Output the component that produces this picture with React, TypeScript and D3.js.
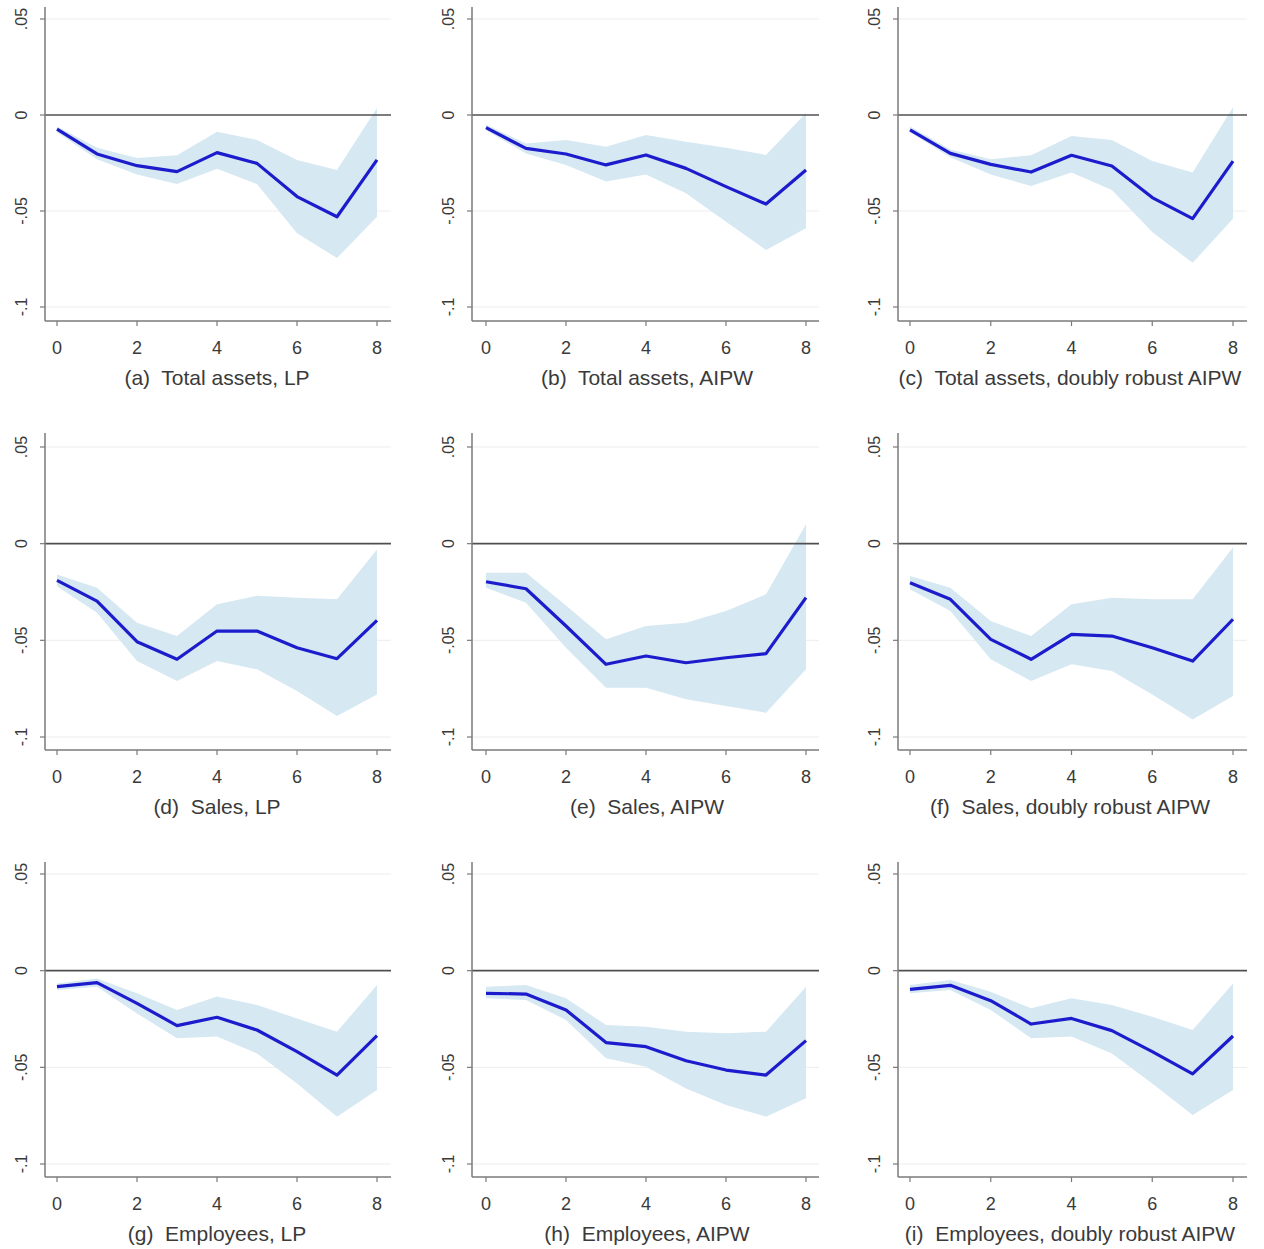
import React from 'react';
import * as d3 from 'd3';

// ---------- data ----------
const horizons = [0, 1, 2, 3, 4, 5, 6, 7, 8];
const xTicks = [0, 2, 4, 6, 8];
const yTicks = [0.05, 0, -0.05, -0.1];
const yTickLabels = ['.05', '0', '-.05', '-.1'];
const gridValues = [0.05, -0.05, -0.1];

const panelTitles = [
  '(a)  Total assets, LP',
  '(b)  Total assets, AIPW',
  '(c)  Total assets, doubly robust AIPW',
  '(d)  Sales, LP',
  '(e)  Sales, AIPW',
  '(f)  Sales, doubly robust AIPW',
  '(g)  Employees, LP',
  '(h)  Employees, AIPW',
  '(i)  Employees, doubly robust AIPW',
];

// (a) Total assets, LP
const taLP = [-0.0074, -0.0203, -0.0264, -0.0295, -0.0196, -0.0252, -0.0425, -0.053, -0.0234];
const taLPHi = [-0.006, -0.017, -0.0224, -0.021, -0.0087, -0.013, -0.0234, -0.0286, 0.0036];
const taLPLo = [-0.009, -0.023, -0.031, -0.036, -0.028, -0.036, -0.0616, -0.0745, -0.053];
// (b) Total assets, AIPW
const taAIPW = [-0.0066, -0.0174, -0.0203, -0.026, -0.0208, -0.0278, -0.0373, -0.0464, -0.0286];
const taAIPWHi = [-0.005, -0.0148, -0.013, -0.0165, -0.0104, -0.0139, -0.017, -0.0208, 0.001];
const taAIPWLo = [-0.008, -0.02, -0.026, -0.0347, -0.031, -0.0408, -0.0556, -0.0703, -0.059];
// (c) Total assets, doubly robust AIPW
const taDR = [-0.0078, -0.02, -0.0257, -0.0297, -0.021, -0.0266, -0.043, -0.054, -0.024];
const taDRHi = [-0.006, -0.018, -0.023, -0.021, -0.011, -0.013, -0.024, -0.03, 0.004];
const taDRLo = [-0.009, -0.022, -0.031, -0.037, -0.03, -0.039, -0.061, -0.077, -0.054];
// (d) Sales, LP
const saLP = [-0.019, -0.0297, -0.0507, -0.0598, -0.0452, -0.0452, -0.0538, -0.0595, -0.0397];
const saLPHi = [-0.016, -0.0228, -0.0409, -0.0478, -0.0314, -0.027, -0.028, -0.0288, -0.003];
const saLPLo = [-0.022, -0.0357, -0.0607, -0.071, -0.0607, -0.065, -0.0762, -0.0891, -0.078];
// (e) Sales, AIPW
const saAIPW = [-0.0197, -0.0233, -0.0426, -0.0624, -0.0581, -0.0616, -0.059, -0.0569, -0.0279];
const saAIPWHi = [-0.015, -0.015, -0.032, -0.0495, -0.0426, -0.0409, -0.0348, -0.0262, 0.01];
const saAIPWLo = [-0.0228, -0.0305, -0.0538, -0.0745, -0.0745, -0.0805, -0.084, -0.0874, -0.065];
// (f) Sales, doubly robust AIPW
const saDR = [-0.0202, -0.0288, -0.0495, -0.0598, -0.0469, -0.0478, -0.0538, -0.0607, -0.0391];
const saDRHi = [-0.0167, -0.0228, -0.04, -0.0478, -0.0314, -0.028, -0.0288, -0.0288, -0.002];
const saDRLo = [-0.0236, -0.0348, -0.0598, -0.071, -0.0624, -0.0659, -0.078, -0.0909, -0.0788];
// (g) Employees, LP
const emLP = [-0.0083, -0.0062, -0.0169, -0.0284, -0.0241, -0.0307, -0.0419, -0.054, -0.0336];
const emLPHi = [-0.0066, -0.004, -0.0117, -0.0203, -0.0134, -0.0178, -0.0247, -0.0316, -0.0074];
const emLPLo = [-0.01, -0.0083, -0.0221, -0.035, -0.0341, -0.0428, -0.0583, -0.0755, -0.0617];
// (h) Employees, AIPW
const emAIPW = [-0.0117, -0.0121, -0.0203, -0.0372, -0.0393, -0.0466, -0.0514, -0.054, -0.0362];
const emAIPWHi = [-0.0083, -0.0074, -0.0143, -0.0281, -0.029, -0.0316, -0.0324, -0.0316, -0.0083];
const emAIPWLo = [-0.0143, -0.0152, -0.0255, -0.0453, -0.0497, -0.0609, -0.0695, -0.0755, -0.066];
// (i) Employees, doubly robust AIPW
const emDR = [-0.0097, -0.0076, -0.0155, -0.0276, -0.0247, -0.031, -0.0419, -0.0534, -0.0338];
const emDRHi = [-0.0074, -0.0048, -0.0109, -0.0195, -0.0143, -0.0178, -0.0238, -0.0307, -0.0066];
const emDRLo = [-0.0117, -0.01, -0.0203, -0.035, -0.0341, -0.0428, -0.0583, -0.0747, -0.0617];

const panelSeries = [
  [taLP, taLPLo, taLPHi],
  [taAIPW, taAIPWLo, taAIPWHi],
  [taDR, taDRLo, taDRHi],
  [saLP, saLPLo, saLPHi],
  [saAIPW, saAIPWLo, saAIPWHi],
  [saDR, saDRLo, saDRHi],
  [emLP, emLPLo, emLPHi],
  [emAIPW, emAIPWLo, emAIPWHi],
  [emDR, emDRLo, emDRHi],
];

// ---------- layout ----------
const cols = [
  { axisX: 45, x0: 57, x8: 377, right: 391, titleX: 217 },
  { axisX: 472, x0: 486, x8: 806, right: 819, titleX: 647 },
  { axisX: 898, x0: 910, x8: 1233, right: 1247, titleX: 1070 },
];
const rows = [
  { yTop: 19, yBot: 307, top: 7, bottom: 321 },
  { yTop: 447, yBot: 737, top: 433, bottom: 750 },
  { yTop: 874, yBot: 1164, top: 862, bottom: 1177 },
];

const AXIS = '#7a7a7a';
const TEXT = '#3a3a3a';
const LINE = '#1c1ccc';
const BAND = '#d6e8f2';
const FONT = 'Arial, "Liberation Sans", sans-serif';

function Panel({ idx }: { idx: number }) {
  const c = cols[idx % 3];
  const r = rows[Math.floor(idx / 3)];
  const [est, lo, hi] = panelSeries[idx];
  const x = d3.scaleLinear().domain([0, 8]).range([c.x0, c.x8]);
  const y = d3.scaleLinear().domain([-0.1, 0.05]).range([r.yBot, r.yTop]);
  const pts = horizons.map((h, i) => ({ h, e: est[i], lo: lo[i], hi: hi[i] }));
  const area = d3
    .area<any>()
    .x((d) => x(d.h))
    .y0((d) => y(d.lo))
    .y1((d) => y(d.hi));
  const line = d3
    .line<any>()
    .x((d) => x(d.h))
    .y((d) => y(d.e));
  return (
    <g>
      {gridValues.map((v) => (
        <line key={'g' + v} x1={c.axisX} x2={c.right} y1={y(v)} y2={y(v)} stroke="#ededed" strokeWidth={1} />
      ))}
      <path d={area(pts) || ''} fill={BAND} stroke="none" />
      <line x1={c.axisX} x2={c.right} y1={y(0)} y2={y(0)} stroke="#505050" strokeWidth={1.6} />
      <path d={line(pts) || ''} fill="none" stroke={LINE} strokeWidth={3.2} strokeLinejoin="round" />
      {/* axes */}
      <line x1={c.axisX} x2={c.axisX} y1={r.top} y2={r.bottom} stroke={AXIS} strokeWidth={1.5} />
      <line x1={c.axisX} x2={c.right} y1={r.bottom} y2={r.bottom} stroke={AXIS} strokeWidth={1.5} />
      {yTicks.map((v, i) => (
        <g key={'y' + v}>
          <line x1={c.axisX - 5} x2={c.axisX} y1={y(v)} y2={y(v)} stroke={AXIS} strokeWidth={1.2} />
          <text
            transform={`translate(${c.axisX - 18},${y(v)}) rotate(-90)`}
            textAnchor="middle"
            fontFamily={FONT}
            fontSize={16}
            fill={TEXT}
          >
            {yTickLabels[i]}
          </text>
        </g>
      ))}
      {xTicks.map((t) => (
        <g key={'x' + t}>
          <line x1={x(t)} x2={x(t)} y1={r.bottom} y2={r.bottom + 5} stroke={AXIS} strokeWidth={1.2} />
          <text x={x(t)} y={r.bottom + 33} textAnchor="middle" fontFamily={FONT} fontSize={18} fill={TEXT}>
            {String(t)}
          </text>
        </g>
      ))}
      <text
        x={c.titleX}
        y={r.bottom + 64}
        textAnchor="middle"
        fontFamily={FONT}
        fontSize={21}
        fill={TEXT}
        style={{ whiteSpace: 'pre' }}
      >
        {panelTitles[idx]}
      </text>
    </g>
  );
}

export default function App() {
  return (
    <svg
      width={1264}
      height={1249}
      viewBox="0 0 1264 1249"
      style={{ position: 'absolute', left: 0, top: 0, display: 'block', background: '#fff' }}
    >
      <rect x={0} y={0} width={1264} height={1249} fill="#fff" />
      {panelTitles.map((_, i) => (
        <Panel key={i} idx={i} />
      ))}
    </svg>
  );
}
